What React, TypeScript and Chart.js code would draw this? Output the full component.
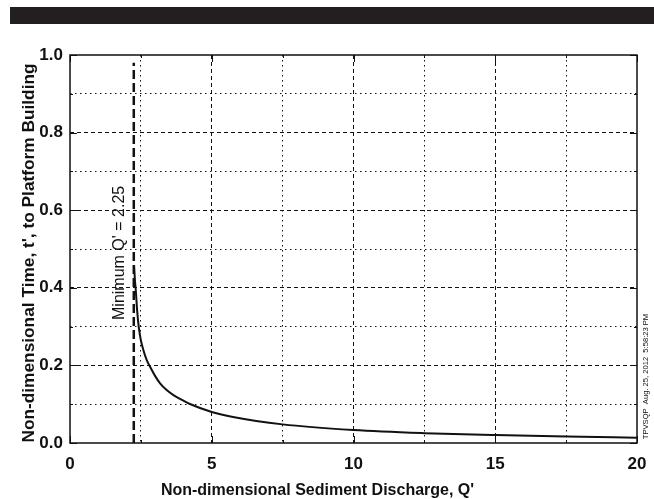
import { useEffect, useRef } from 'react';
import { Chart, registerables } from 'chart.js';
Chart.register(...registerables);

// Curve: non-dimensional time t' vs non-dimensional sediment discharge Q'
const dischargeQ = [2.26, 2.29, 2.32, 2.37, 2.43, 2.5, 2.59, 2.7, 2.82, 3.0, 3.17, 3.4, 3.65, 4.0, 4.23, 5.0, 5.75, 7.5, 10, 12.5, 15, 17.5, 20];
const timeT = [0.458, 0.42, 0.394, 0.34, 0.296, 0.265, 0.239, 0.215, 0.197, 0.173, 0.1546, 0.137, 0.1233, 0.109, 0.1005, 0.08, 0.067, 0.048, 0.0335, 0.0254, 0.0203, 0.0166, 0.01375];

// Minimum Q' marker line
const minQ = 2.25;
const minLineT = [0, 0.98];
const minLabel = "Minimum Q' = 2.25";

const xTickLabels = ['0', '5', '10', '15', '20'];
const yTickLabels = ['0.0', '0.2', '0.4', '0.6', '0.8', '1.0'];
const xTitle = "Non-dimensional Sediment Discharge, Q'";
const yTitle = "Non-dimensional Time, t', to Platform Building";
const stampText = 'TPVSQP  Aug. 25, 2012  5:58:23 PM';

const FONT = '"Liberation Sans", Arial, sans-serif';

const isMajorX = (v: number) => Math.abs(v / 5 - Math.round(v / 5)) < 1e-6;
const isMajorY = (v: number) => Math.abs(v / 0.2 - Math.round(v / 0.2)) < 1e-6;

export default function App() {
  const ref = useRef<HTMLCanvasElement>(null);
  useEffect(() => {
    document.body.style.margin = '0';
    const canvas = ref.current!;
    const boxPlugin = {
      id: 'boxPlugin',
      afterDatasetsDraw(chart: any) {
        const { ctx, chartArea: a, scales } = chart;
        const xs = scales.x, ys = scales.y;
        ctx.save();
        ctx.strokeStyle = '#111';
        ctx.lineWidth = 1;
        ctx.setLineDash([]);
        // inner ticks
        xs.ticks.forEach((t: any) => {
          const px = Math.round(xs.getPixelForValue(t.value)) + 0.5;
          const len = isMajorX(t.value) ? 7 : 3;
          ctx.beginPath();
          ctx.moveTo(px, a.top); ctx.lineTo(px, a.top + len);
          ctx.moveTo(px, a.bottom); ctx.lineTo(px, a.bottom - len);
          ctx.stroke();
        });
        ys.ticks.forEach((t: any) => {
          const py = Math.round(ys.getPixelForValue(t.value)) + 0.5;
          const len = isMajorY(t.value) ? 7 : 3;
          ctx.beginPath();
          ctx.moveTo(a.left, py); ctx.lineTo(a.left + len, py);
          ctx.moveTo(a.right, py); ctx.lineTo(a.right - len, py);
          ctx.stroke();
        });
        ctx.lineWidth = 1.5;
        ctx.strokeRect(a.left, a.top, a.right - a.left, a.bottom - a.top);
        // annotation
        ctx.fillStyle = '#111';
        ctx.font = `16px ${FONT}`;
        ctx.textAlign = 'center';
        ctx.textBaseline = 'middle';
        ctx.translate(xs.getPixelForValue(minQ) - 14, ys.getPixelForValue(0.49));
        ctx.rotate(-Math.PI / 2);
        ctx.fillText(minLabel, 0, 0);
        ctx.restore();
        // x-axis title
        ctx.save();
        ctx.fillStyle = '#111';
        ctx.font = `bold 16px ${FONT}`;
        ctx.textAlign = 'center';
        ctx.textBaseline = 'alphabetic';
        ctx.fillText(xTitle, 317.5, 494.5);
        ctx.restore();
        // y-axis title
        ctx.save();
        ctx.fillStyle = '#111';
        ctx.font = `bold 17.3px ${FONT}`;
        ctx.textAlign = 'center';
        ctx.textBaseline = 'alphabetic';
        ctx.translate(33.5, 253);
        ctx.rotate(-Math.PI / 2);
        ctx.fillText(yTitle, 0, 0);
        ctx.restore();
        // timestamp
        ctx.save();
        ctx.fillStyle = '#111';
        ctx.font = `7.6px ${FONT}`;
        ctx.textAlign = 'center';
        ctx.textBaseline = 'middle';
        ctx.translate(646, 376.5);
        ctx.rotate(-Math.PI / 2);
        ctx.fillText(stampText, 0, 0);
        ctx.restore();
      },
    };
    const chart = new Chart(canvas, {
      type: 'line',
      data: {
        datasets: [
          {
            data: dischargeQ.map((q, i) => ({ x: q, y: timeT[i] })),
            borderColor: '#111',
            borderWidth: 2,
            pointRadius: 0,
            cubicInterpolationMode: 'monotone',
          },
          {
            data: minLineT.map((t) => ({ x: minQ, y: t })),
            borderColor: '#111',
            borderWidth: 2.5,
            borderDash: [9, 4],
            pointRadius: 0,
          },
        ],
      },
      options: {
        animation: false,
        responsive: false,
        devicePixelRatio: 1,
        layout: { padding: { top: 55, right: 17, left: 0, bottom: 0 } },
        plugins: { legend: { display: false }, tooltip: { enabled: false } },
        scales: {
          x: {
            type: 'linear',
            min: 0,
            max: 20,
            afterFit: (s: any) => { s.height = 56; s.paddingRight = 0; s.paddingLeft = 0; },
            ticks: {
              stepSize: 2.5,
              autoSkip: false,
              maxRotation: 0,
              color: '#111',
              padding: 11,
              font: { family: FONT, size: 17, weight: 'bold' },
              callback: (v: any) => {
                const n = Number(v);
                return isMajorX(n) ? xTickLabels[Math.round(n / 5)] : '';
              },
            },
            grid: {
              drawTicks: false,
              lineWidth: 1,
              color: (c: any) => (c.tick && (c.tick.value <= 0 || c.tick.value >= 20) ? 'rgba(0,0,0,0)' : '#111'),
            },
            border: {
              display: false,
              dash: (c: any) => (c.tick && isMajorX(c.tick.value) ? [4, 3] : [1.5, 3.5]),
            },
          },
          y: {
            type: 'linear',
            min: 0,
            max: 1,
            afterFit: (s: any) => { s.width = 70; },
            ticks: {
              stepSize: 0.1,
              autoSkip: false,
              color: '#111',
              padding: 7,
              font: { family: FONT, size: 17, weight: 'bold' },
              callback: (v: any) => {
                const n = Number(v);
                return isMajorY(n) ? yTickLabels[Math.round(n / 0.2)] : '';
              },
            },
            grid: {
              drawTicks: false,
              lineWidth: 1,
              color: (c: any) => (c.tick && (c.tick.value <= 0.0001 || c.tick.value >= 0.9999) ? 'rgba(0,0,0,0)' : '#111'),
            },
            border: {
              display: false,
              dash: (c: any) => (c.tick && isMajorY(c.tick.value) ? [4, 3] : [1.5, 3.5]),
            },
          },
        },
      },
      plugins: [boxPlugin],
    } as any);
    return () => chart.destroy();
  }, []);
  return (
    <div style={{ position: 'fixed', left: 0, top: 0, width: 654, height: 499, background: '#fff' }}>
      <div style={{ position: 'absolute', left: 10, top: 7, width: 644, height: 17, background: '#231f20' }} />
      <canvas ref={ref} width={654} height={499} style={{ position: 'absolute', left: 0, top: 0 }} />
    </div>
  );
}
